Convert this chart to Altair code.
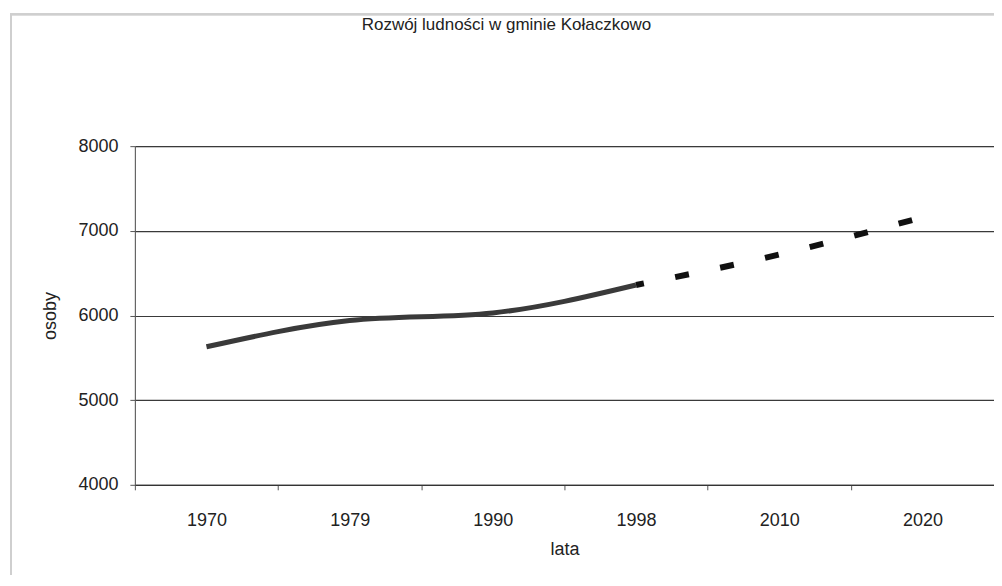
import altair as alt
import pandas as pd

# --- data ---
lata = ["1970", "1979", "1990", "1998", "2010", "2020"]
osoby_faktyczne = [5630, 5940, 6030, 6360]          # 1970-1998 (solid)
osoby_prognoza = [6360, 6720, 7160]                 # 1998-2020 (dashed)
lata_faktyczne = lata[0:4]
lata_prognoza = lata[3:6]
y_ticks = [4000, 5000, 6000, 7000, 8000]

df_fakt = pd.DataFrame({"lata": lata_faktyczne, "osoby": osoby_faktyczne})
df_prog = pd.DataFrame({"lata": lata_prognoza, "osoby": osoby_prognoza})

FONT = "Liberation Sans"

x_enc = alt.X(
    "lata:N",
    sort=lata,
    bandPosition=0.5,
    scale=alt.Scale(type="band", domain=lata, paddingInner=0, paddingOuter=0),
    axis=alt.Axis(
        title="lata",
        labelAngle=0,
        tickBand="extent",
        tickSize=5,
        labelPadding=22,
        titlePadding=11,
        labelFontSize=18,
        titleFontSize=18,
        domainColor="#333",
        tickColor="#555",
        grid=False,
    ),
)
y_enc = alt.Y(
    "osoby:Q",
    scale=alt.Scale(domain=[4000, 8000], nice=False, zero=False),
    axis=alt.Axis(
        title="osoby",
        values=y_ticks,
        format="d",
        tickSize=5,
        labelPadding=12,
        titlePadding=18,
        labelFontSize=18,
        titleFontSize=18,
        domainColor="#555",
        tickColor="#555",
        grid=True,
        gridColor="#3a3a3a",
        gridWidth=1.2,
    ),
)

solid = alt.Chart(df_fakt).mark_line(
    color="#3a3a3a", strokeWidth=5, interpolate="monotone", strokeCap="butt"
).encode(x=x_enc, y=y_enc)

dashed = alt.Chart(df_prog).mark_line(
    color="#111111", strokeWidth=6, interpolate="monotone",
    strokeDash=[14, 32], strokeDashOffset=6, strokeCap="butt"
).encode(x=x_enc, y=y_enc)

frame = alt.Chart(df_fakt).mark_rect(
    fill=None, stroke="#cfcfcf", strokeWidth=2
).encode(
    x=alt.value(-124), x2=alt.value(900),
    y=alt.value(-132), y2=alt.value(480),
)

chart = alt.layer(frame, solid, dashed).properties(
    width=860,
    height=339,
    autosize=alt.AutoSizeParams(type="none"),
    padding={"left": 127, "top": 138, "right": 0, "bottom": 90},
    title=alt.TitleParams(
        "Rozwój ludności w gminie Kołaczkowo",
        anchor="middle",
        frame="group",
        baseline="middle",
        offset=0,
        dy=29,
        dx=-58,
        fontSize=17,
        fontWeight="normal",
        font=FONT,
        color="#222",
    ),
).configure(
    font=FONT,
).configure_view(
    stroke="#c8c8c8", strokeWidth=1
).configure_axis(
    labelFont=FONT, titleFont=FONT, labelColor="#222", titleColor="#222",
    titleFontWeight="normal",
)

chart.save("out.html", embed_options={"renderer": "svg", "actions": False})
